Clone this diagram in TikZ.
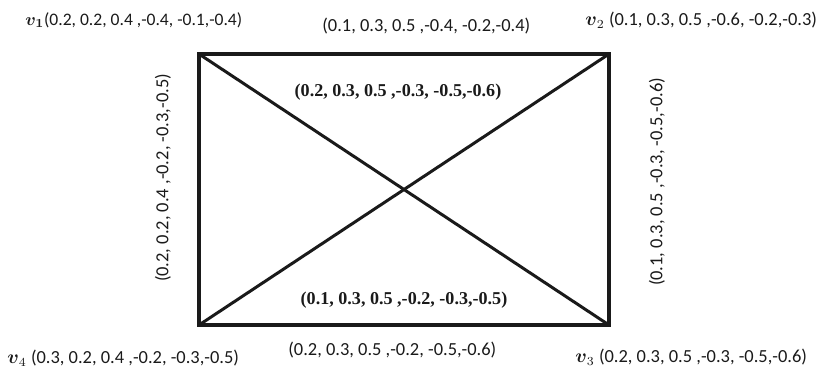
\documentclass[tikz,border=0pt]{standalone}
\usepackage{amsmath,amssymb}
\usepackage[no-math]{fontspec}
\setmainfont{Carlito}
\newfontfamily\serifbf{Liberation Serif}[BoldFont={Liberation Serif Bold}]
\usetikzlibrary{positioning}
\definecolor{ink}{HTML}{1A1A1A}

\begin{document}
\begin{tikzpicture}[x=0.02cm,y=-0.02cm,
  edge/.style={ink,line width=2pt,line cap=round},
  diag/.style={ink,line width=1.7pt},
  vlab/.style={text=ink,font=\fontsize{10.5}{12}\selectfont,inner sep=0pt},
  dlab/.style={text=ink,font=\fontsize{10.3}{12}\selectfont\serifbf\bfseries,inner sep=0pt}]
\useasboundingbox (0,0) rectangle (819,370);
% corners of the graph
\coordinate (v1) at (199,54);
\coordinate (v2) at (609,54);
\coordinate (v3) at (609,325);
\coordinate (v4) at (199,325);
% edges
\draw[edge] (v1) -- (v2) -- (v3) -- (v4) -- cycle;
\draw[diag] (v1) -- (v3);
\draw[diag] (v2) -- (v4);
% vertex labels
\node[vlab,anchor=west,font=\fontsize{10}{12}\selectfont] (l1) at (25,20) {$\boldsymbol{v_1}$(0.2, 0.2, 0.4 ,-0.4, -0.1,-0.4)};
\node[vlab,anchor=west] (l2) at (585,20) {$\boldsymbol{v}_2$ (0.1, 0.3, 0.5 ,-0.6, -0.2,-0.3)};
\node[vlab,anchor=west] (l3) at (575,357) {$\boldsymbol{v}_3$ (0.2, 0.3, 0.5 ,-0.3, -0.5,-0.6)};
\node[vlab,anchor=west] (l4) at (7,358) {$\boldsymbol{v}_4$ (0.3, 0.2, 0.4 ,-0.2, -0.3,-0.5)};
% edge labels
\node[vlab,anchor=west] (e12) at (322,26) {(0.1, 0.3, 0.5 ,-0.4, -0.2,-0.4)};
\node[vlab,anchor=west] (e34) at (288,350) {(0.2, 0.3, 0.5 ,-0.2, -0.5,-0.6)};
\node[vlab,rotate=90] (e14) at (163,178) {(0.2, 0.2, 0.4 ,-0.2, -0.3,-0.5)};
\node[vlab,rotate=90] (e23) at (657,182) {(0.1, 0.3, 0.5 ,-0.3, -0.5,-0.6)};
% diagonal labels
\node[dlab] (e13) at (398,92) {(0.2, 0.3, 0.5 ,-0.3, -0.5,-0.6)};
\node[dlab] (e24) at (404,300) {(0.1, 0.3, 0.5 ,-0.2, -0.3,-0.5)};
\end{tikzpicture}
\end{document}
